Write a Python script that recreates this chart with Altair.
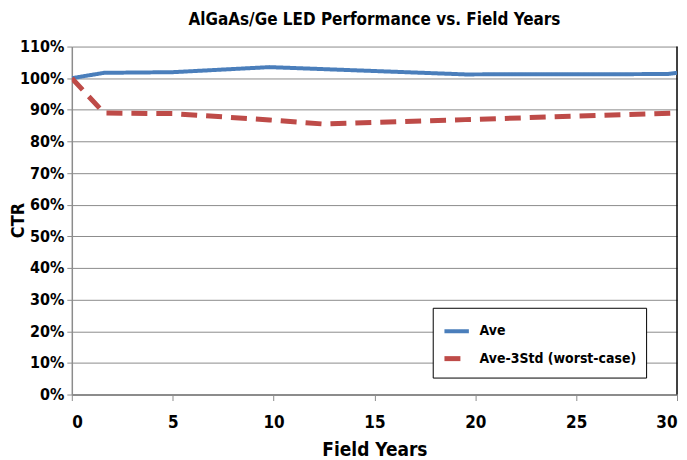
import altair as alt
import pandas as pd

years_ave = [0, 1.6, 5, 9.8, 19.5, 29.5, 30]
ctr_ave = [1.00, 1.017, 1.019, 1.035, 1.012, 1.013, 1.017]
years_worst = [0, 1.6, 5, 9.8, 12.5, 19.5, 30]
ctr_worst = [1.00, 0.89, 0.888, 0.868, 0.855, 0.869, 0.89]
series = ["Ave", "Ave-3Std (worst-case)"]
colors = ["#4a7ebb", "#be4b48"]

rows = [{"Years": x, "CTR": y, "Series": series[0]} for x, y in zip(years_ave, ctr_ave)]
rows += [{"Years": x, "CTR": y, "Series": series[1]} for x, y in zip(years_worst, ctr_worst)]
df = pd.DataFrame(rows)

FONT = "DejaVu Sans Condensed, Liberation Sans Narrow, sans-serif"

lines = alt.Chart(df).mark_line(strokeCap="butt", clip=True).encode(
    x=alt.X("Years:Q", scale=alt.Scale(domain=[0, 30], nice=False),
            axis=alt.Axis(values=[0, 5, 10, 15, 20, 25, 30], title="Field Years", grid=False,
                          domainColor="#8c8c8c", domainWidth=2, tickColor="#8c8c8c", tickSize=6,
                          labelFontSize=17, labelFontWeight="bold", labelColor="black", labelPadding=14,
                          titleFontSize=19, titleFontWeight="bold", titlePadding=10)),
    y=alt.Y("CTR:Q", scale=alt.Scale(domain=[0, 1.1], nice=False),
            axis=alt.Axis(values=[i / 10 for i in range(12)], format=".0%", title="CTR",
                          gridColor="#8c8c8c", gridWidth=1, domainColor="#8c8c8c", domainWidth=1.5,
                          tickColor="#8c8c8c", tickSize=5,
                          labelFontSize=16, labelFontWeight="bold", labelColor="black", labelPadding=3,
                          titleFontSize=18, titleFontWeight="bold",
                          titleX=-53, titleY=174, titleBaseline="middle", titleAlign="center", titleAngle=270)),
    color=alt.Color("Series:N", scale=alt.Scale(domain=series, range=colors),
                    legend=alt.Legend(title=None, orient="none", legendX=362, legendY=262,
                                      strokeColor="black", fillColor="white", padding=9,
                                      labelFontSize=14, labelFontWeight="bold", labelColor="black",
                                      symbolType="stroke", symbolStrokeWidth=3.5, symbolSize=600,
                                      rowPadding=4, labelLimit=300, labelOffset=8)),
    strokeDash=alt.StrokeDash("Series:N", scale=alt.Scale(domain=series, range=[[1, 0], [16, 9]]), legend=None),
    strokeWidth=alt.StrokeWidth("Series:N", scale=alt.Scale(domain=series, range=[4, 5]), legend=None),
)

border = alt.Chart(pd.DataFrame({"x": [30]})).mark_rule(color="black", strokeWidth=1.5).encode(
    x=alt.X("x:Q"))

chart = alt.layer(border, lines).properties(
    width=607, height=349,
    title=alt.TitleParams("AlGaAs/Ge LED Performance vs. Field Years", fontSize=17, fontWeight="bold",
                          font=FONT, offset=10, color="black"),
    autosize=alt.AutoSizeParams(type="none"),
    padding={"left": 64, "top": 38, "right": 2, "bottom": 65},
).configure(font=FONT).configure_view(stroke=None).configure_axis(labelFont=FONT, titleFont=FONT).configure_legend(labelFont=FONT)

chart.save("out.html", embed_options={"renderer": "svg", "actions": False})
